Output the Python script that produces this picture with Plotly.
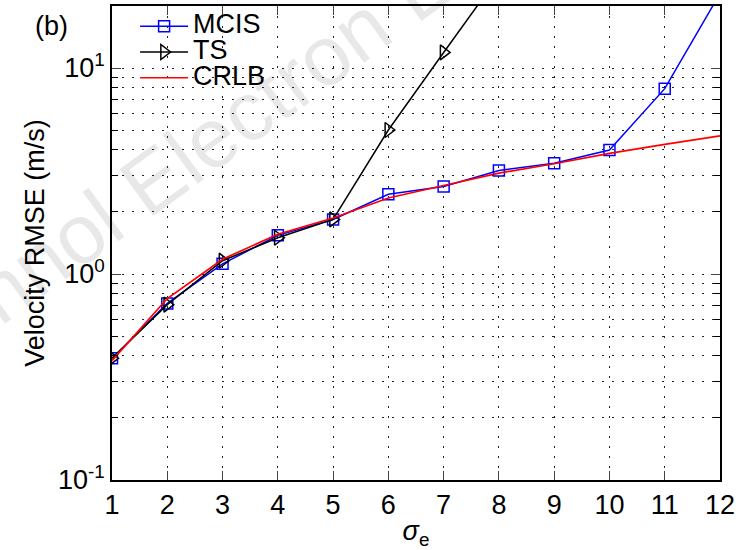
import plotly.graph_objects as go

sigma_e = [1, 2, 3, 4, 5, 6, 7, 8, 9, 10, 11, 12]
mcis = [0.39, 0.72, 1.12, 1.54, 1.84, 2.44, 2.66, 3.18, 3.45, 4.0, 7.94, 23]
ts_x = [1, 2, 3, 4, 5, 6, 7, 8]
ts = [0.39, 0.71, 1.16, 1.50, 1.84, 5.0, 11.9, 28]
crlb = [0.38, 0.76, 1.18, 1.56, 1.87, 2.34, 2.69, 3.09, 3.43, 3.85, 4.26, 4.68]
y_tickvals = [0.1, 1, 10]
y_ticktext = ["10<sup>-1</sup>", "10<sup>0</sup>", "10<sup>1</sup>"]

FONT = "Liberation Sans, Arial, sans-serif"
BIG = 27


def big(s):
    return '<span style="font-size:%dpx">%s</span>' % (BIG, s)


fig = go.Figure()
fig.add_trace(go.Scatter(x=sigma_e, y=mcis, name=big("MCIS"), mode="lines+markers",
                         line=dict(color="#0000ff", width=1.5),
                         marker=dict(symbol="square-open", size=11, color="#0000ff", line=dict(width=1.5))))
fig.add_trace(go.Scatter(x=ts_x, y=ts, name=big("TS"), mode="lines+markers",
                         line=dict(color="#000000", width=1.5),
                         marker=dict(symbol="triangle-right-open", size=13, color="#000000", line=dict(width=1.5))))
fig.add_trace(go.Scatter(x=sigma_e, y=crlb, name=big("CRLB"), mode="lines",
                         line=dict(color="#ff0000", width=1.7)))

grid_dash = "1.5px,8.5px"
fig.update_xaxes(range=[1, 12], dtick=1, tick0=1, ticks="inside", ticklen=9, tickwidth=1.3,
                 showline=True, linecolor="black", linewidth=1.5, mirror="ticks",
                 showgrid=True, gridcolor="#222", griddash=grid_dash, gridwidth=1.2,
                 zeroline=False, tickfont=dict(size=BIG, family=FONT, color="black"),
                 title=dict(text="<i>σ</i><sub>e</sub>", font=dict(size=BIG, family=FONT, color="black"), standoff=6))
fig.update_yaxes(type="log", range=[-1, 1.301], tickvals=y_tickvals, ticktext=y_ticktext,
                 ticks="inside", ticklen=9, tickwidth=1.3,
                 showline=True, linecolor="black", linewidth=1.5, mirror="ticks",
                 showgrid=True, gridcolor="#222", griddash=grid_dash, gridwidth=1.2,
                 minor=dict(dtick="D1", ticks="inside", ticklen=6, showgrid=True,
                            gridcolor="#222", griddash=grid_dash, gridwidth=1.2, tickcolor="black"),
                 tickfont=dict(size=BIG, family=FONT, color="black"),
                 title=dict(text="Velocity RMSE (m/s)", font=dict(size=BIG, family=FONT, color="black"), standoff=6))

fig.update_layout(
    width=743, height=550,
    margin=dict(l=112, r=23, t=4, b=70),
    paper_bgcolor="white", plot_bgcolor="white",
    showlegend=True,
    legend=dict(x=0.038, y=0.995, xanchor="left", yanchor="top", bgcolor="rgba(0,0,0,0)",
                font=dict(size=17.5, family=FONT, color="black"), tracegroupgap=0,
                itemwidth=48),
)
fig.add_annotation(text="(b)", xref="paper", yref="paper", x=-0.1, y=0.957,
                   xanchor="center", yanchor="middle", showarrow=False,
                   font=dict(size=BIG, family=FONT, color="black"))
fig.add_annotation(text="Technol Electron Eng", xref="paper", yref="paper", x=0.143, y=0.702,
                   xanchor="center", yanchor="middle", showarrow=False, textangle=-36,
                   font=dict(size=84, family=FONT, color="rgba(0,0,0,0.09)"))

fig.write_html("out.html")
